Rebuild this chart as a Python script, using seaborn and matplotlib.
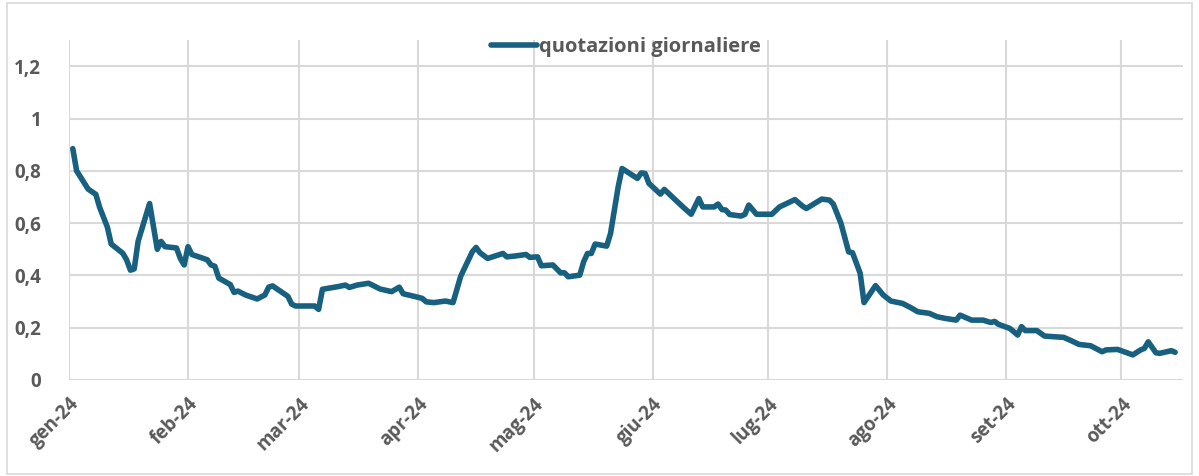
import numpy as np
import pandas as pd
import matplotlib
matplotlib.use("Agg")
from matplotlib import pyplot as plt
from matplotlib.ticker import FuncFormatter
import seaborn as sns

# daily quotes (vertices of the line)
dates = ['2024-01-02', '2024-01-03', '2024-01-06', '2024-01-08', '2024-01-09', '2024-01-11',
         '2024-01-12', '2024-01-15', '2024-01-16', '2024-01-17', '2024-01-18', '2024-01-19',
         '2024-01-22', '2024-01-24', '2024-01-25', '2024-01-26', '2024-01-29', '2024-01-30',
         '2024-01-31', '2024-02-01', '2024-02-02', '2024-02-06', '2024-02-07', '2024-02-08',
         '2024-02-09', '2024-02-12', '2024-02-13', '2024-02-14', '2024-02-16', '2024-02-19',
         '2024-02-21', '2024-02-22', '2024-02-23', '2024-02-27', '2024-02-28', '2024-02-29',
         '2024-03-05', '2024-03-06', '2024-03-07', '2024-03-11', '2024-03-13', '2024-03-14',
         '2024-03-16', '2024-03-19', '2024-03-20', '2024-03-22', '2024-03-25', '2024-03-27',
         '2024-03-28', '2024-04-01', '2024-04-02', '2024-04-03', '2024-04-05', '2024-04-08',
         '2024-04-10', '2024-04-12', '2024-04-15', '2024-04-16', '2024-04-17', '2024-04-19',
         '2024-04-23', '2024-04-24', '2024-04-26', '2024-04-29', '2024-04-30', '2024-05-02',
         '2024-05-03', '2024-05-06', '2024-05-08', '2024-05-09', '2024-05-10', '2024-05-13',
         '2024-05-14', '2024-05-15', '2024-05-16', '2024-05-17', '2024-05-20', '2024-05-21',
         '2024-05-23', '2024-05-24', '2024-05-28', '2024-05-29', '2024-05-30', '2024-05-31',
         '2024-06-03', '2024-06-04', '2024-06-09', '2024-06-11', '2024-06-13', '2024-06-14',
         '2024-06-17', '2024-06-18', '2024-06-19', '2024-06-20', '2024-06-21', '2024-06-24',
         '2024-06-25', '2024-06-26', '2024-06-28', '2024-07-02', '2024-07-04', '2024-07-05',
         '2024-07-08', '2024-07-10', '2024-07-11', '2024-07-15', '2024-07-17', '2024-07-18',
         '2024-07-20', '2024-07-22', '2024-07-23', '2024-07-25', '2024-07-26', '2024-07-29',
         '2024-07-31', '2024-08-02', '2024-08-05', '2024-08-07', '2024-08-09', '2024-08-12',
         '2024-08-14', '2024-08-16', '2024-08-19', '2024-08-20', '2024-08-21', '2024-08-23',
         '2024-08-26', '2024-08-28', '2024-08-29', '2024-08-30', '2024-09-02', '2024-09-04',
         '2024-09-05', '2024-09-06', '2024-09-09', '2024-09-11', '2024-09-16', '2024-09-18',
         '2024-09-20', '2024-09-23', '2024-09-26', '2024-09-27', '2024-09-30', '2024-10-04',
         '2024-10-06', '2024-10-07', '2024-10-08', '2024-10-10', '2024-10-11', '2024-10-14',
         '2024-10-15']
quotes = [0.885, 0.80, 0.73, 0.71, 0.66, 0.585,
          0.52, 0.485, 0.46, 0.42, 0.425, 0.53,
          0.675, 0.50, 0.53, 0.51, 0.505, 0.465,
          0.44, 0.51, 0.48, 0.46, 0.44, 0.435,
          0.39, 0.365, 0.335, 0.34, 0.325, 0.31,
          0.325, 0.355, 0.36, 0.32, 0.29, 0.283,
          0.283, 0.27, 0.347, 0.357, 0.363, 0.354,
          0.363, 0.37, 0.363, 0.348, 0.338, 0.355,
          0.33, 0.316, 0.312, 0.299, 0.296, 0.302,
          0.296, 0.397, 0.49, 0.507, 0.487, 0.465,
          0.484, 0.471, 0.474, 0.48, 0.469, 0.471,
          0.437, 0.44, 0.41, 0.41, 0.395, 0.401,
          0.452, 0.484, 0.484, 0.52, 0.512, 0.56,
          0.739, 0.809, 0.771, 0.792, 0.79, 0.752,
          0.711, 0.729, 0.66, 0.634, 0.694, 0.662,
          0.662, 0.673, 0.652, 0.65, 0.633, 0.627,
          0.634, 0.669, 0.634, 0.634, 0.662, 0.669,
          0.69, 0.665, 0.656, 0.692, 0.688, 0.673,
          0.599, 0.49, 0.487, 0.408, 0.296, 0.361,
          0.325, 0.302, 0.293, 0.278, 0.261, 0.255,
          0.242, 0.236, 0.229, 0.248, 0.242, 0.229,
          0.229, 0.22, 0.224, 0.213, 0.197, 0.172,
          0.204, 0.189, 0.189, 0.168, 0.163, 0.15,
          0.136, 0.131, 0.108, 0.115, 0.117, 0.096,
          0.115, 0.121, 0.146, 0.104, 0.102, 0.112,
          0.106]

month_labels = ['gen-24', 'feb-24', 'mar-24', 'apr-24', 'mag-24',
                'giu-24', 'lug-24', 'ago-24', 'set-24', 'ott-24']
y_ticks = [0, 0.2, 0.4, 0.6, 0.8, 1.0, 1.2]

df = pd.DataFrame({'data': pd.to_datetime(dates), 'quotazione': quotes})

sns.set_style("white")
plt.rcParams['font.family'] = ['Open Sans', 'DejaVu Sans']

line_col = '#17607f'
grid_col = '#d9d9d9'
text_col = '#595959'

fig = plt.figure(figsize=(11.99, 4.76), dpi=100)
ax = fig.add_axes([0.0575, 0.2017, 0.929, 0.714])

sns.lineplot(data=df, x='data', y='quotazione', ax=ax, color=line_col,
             linewidth=4.0, label='quotazioni giornaliere')

month_starts = pd.date_range('2024-01-01', periods=10, freq='MS')
ax.set_xticks(month_starts)
ax.set_xticklabels(month_labels, rotation=45, ha='right', rotation_mode='anchor')
ax.set_xlim(pd.Timestamp('2024-01-01'), pd.Timestamp('2024-10-17'))
ax.set_ylim(0, 1.3)
ax.set_yticks(y_ticks)
ax.yaxis.set_major_formatter(FuncFormatter(lambda v, p: ('%g' % round(v, 1)).replace('.', ',')))

ax.grid(True, color=grid_col, linewidth=1.5)
ax.set_axisbelow(True)
for s in ax.spines.values():
    s.set_visible(False)
ax.tick_params(axis='x', length=6, width=1.5, color=grid_col, pad=4,
               labelsize=13.5, labelcolor=text_col)
ax.tick_params(axis='y', length=0, pad=20, labelsize=13.5, labelcolor=text_col)
for t in ax.get_xticklabels() + ax.get_yticklabels():
    t.set_fontweight('bold')
ax.set_xlabel('')
ax.set_ylabel('')

leg = ax.legend(loc='upper center', bbox_to_anchor=(0.5, 1.04), frameon=False,
                handlelength=2.3, handletextpad=0.1, borderaxespad=0.1,
                prop={'weight': 'bold', 'size': 14.5})
for t in leg.get_texts():
    t.set_color(text_col)

# thin frame round the whole chart
fig.patches.append(plt.Rectangle((0.006, 0.004), 0.988, 0.99, transform=fig.transFigure,
                                 fill=False, edgecolor=grid_col, linewidth=1.2))

fig.savefig('out.png', dpi=100)
